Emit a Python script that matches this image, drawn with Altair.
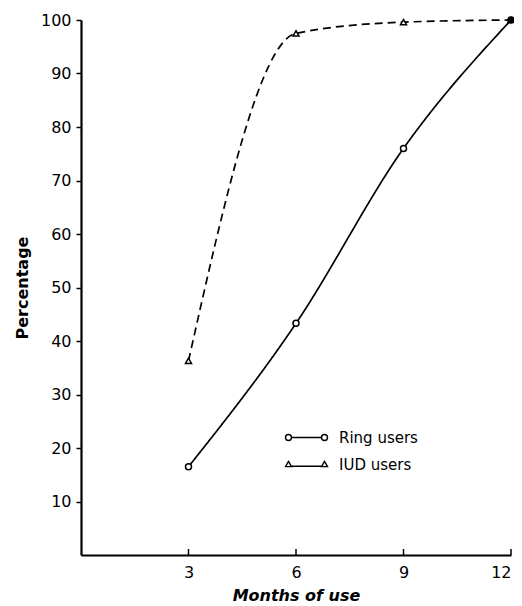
import altair as alt
import pandas as pd

months = [3, 6, 9, 12]
series_names = ["Ring users", "IUD users"]
ring = [16.5, 43.3, 76.0, 100.0]
iud = [36.3, 97.5, 99.6, 100.0]
x_ticks = [3, 6, 9, 12]
y_ticks = [10, 20, 30, 40, 50, 60, 70, 80, 90, 100]

rows = []
for name, vals in zip(series_names, [ring, iud]):
    for m, v in zip(months, vals):
        rows.append({"month": m, "pct": v, "series": name})
df = pd.DataFrame(rows)
ticks_df = pd.DataFrame({"month": x_ticks})

FONT = "DejaVu Sans"
H = 535

x = alt.X("month:Q", scale=alt.Scale(domain=[0, 12], nice=False),
          axis=alt.Axis(values=x_ticks, title="Months of use", grid=False,
                        ticks=False, labelPadding=9,
                        titleFontStyle="italic"))
y = alt.Y("pct:Q", scale=alt.Scale(domain=[0, 100], nice=False),
          axis=alt.Axis(values=y_ticks, title="Percentage", grid=False,
                        tickSize=5, labelPadding=5))

base = alt.Chart(df).encode(x=x, y=y)

lines = base.mark_line(color="black", strokeWidth=1.7, interpolate="monotone").encode(
    strokeDash=alt.StrokeDash("series:N", scale=alt.Scale(domain=series_names, range=[[1, 0], [8, 5]]), legend=None),
    detail="series:N",
)

points = base.mark_point(filled=False, color="black", strokeWidth=1.5, size=36, opacity=1).encode(
    shape=alt.Shape("series:N", scale=alt.Scale(domain=series_names, range=["circle", "triangle-up"]), legend=None),
    fill=alt.condition("datum.month == 12", alt.value("black"), alt.value("white")),
)

circ_path = ("M-3.5,0 A0.5,0.5 0 1,0 -2.5,0 A0.5,0.5 0 1,0 -3.5,0 "
             "M-2.5,0 L2.5,0 "
             "M2.5,0 A0.5,0.5 0 1,0 3.5,0 A0.5,0.5 0 1,0 2.5,0")
tri_path = ("M-3.5,0.35 L-3,-0.5 L-2.5,0.35 Z "
            "M-2.5,0.3 L2.5,0.3 "
            "M2.5,0.35 L3,-0.5 L3.5,0.35 Z")

legend_layer = base.mark_point(filled=False, color="black", opacity=0, size=1).encode(
    shape=alt.Shape("series:N",
                    scale=alt.Scale(domain=series_names, range=[circ_path, tri_path]),
                    legend=alt.Legend(title=None, orient="none", legendX=218, legendY=410,
                                      symbolSize=144, symbolStrokeWidth=1.4,
                                      symbolStrokeColor="black", symbolFillColor="transparent",
                                      symbolOpacity=1, labelOffset=25, rowPadding=11,
                                      padding=0, labelFontSize=15, labelFont=FONT,
                                      labelColor="black")),
)

xticks = alt.Chart(ticks_df).mark_rule(color="black", strokeWidth=1.5).encode(
    x=alt.X("month:Q"),
    y=alt.value(H),
    y2=alt.value(H - 6),
)

chart = alt.layer(lines, points, legend_layer, xticks).resolve_scale(shape="independent").properties(
    width=430, height=H,
    autosize=alt.AutoSizeParams(type="none"),
    padding={"left": 73, "top": 12, "right": 3, "bottom": 51},
).configure_view(stroke=None).configure_axis(
    domainColor="black", domainWidth=2.2, tickColor="black", tickWidth=1.5,
    labelFont=FONT, labelFontSize=16, labelColor="black",
    titleFont=FONT, titleFontSize=16, titleFontWeight="bold", titleColor="black",
).configure_axisX(titlePadding=7).configure_axisY(titlePadding=10)

chart.save("out.html", embed_options={"renderer": "svg", "actions": False})
